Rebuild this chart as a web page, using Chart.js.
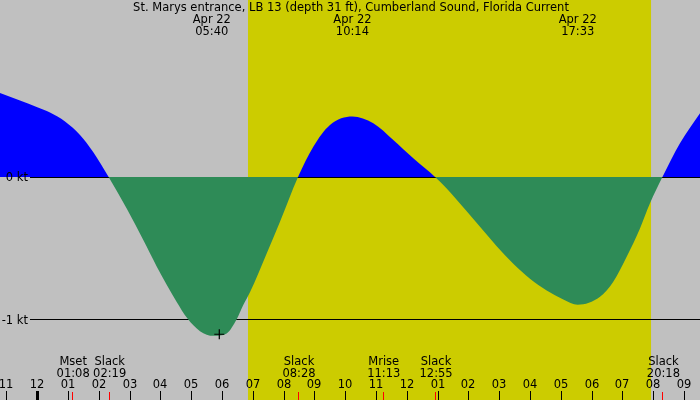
<!DOCTYPE html>
<html>
<head>
<meta charset="utf-8">
<script src="https://cdn.jsdelivr.net/npm/chart.js@4"></script>
<style>
html,body{margin:0;padding:0;background:#c0c0c0;}
#wrap{width:700px;height:400px;}
</style>
</head>
<body>
<div id="wrap"><canvas id="c" width="700" height="400"></canvas></div>
<script>
// Hours after midnight Apr 22 and current speed (kt, + = ebb/blue, - = flood/green)
const hours = [-1.211,-0.562,0.0,0.412,0.900,1.387,1.809,2.317,2.903,3.442,3.877,4.202,4.527,4.871,5.283,5.720,6.150,6.475,6.689,6.906,7.449,7.881,8.467,8.963,9.505,10.233,10.911,11.560,12.210,12.917,13.294,13.944,14.376,14.918,15.457,15.999,16.541,17.081,17.550,18.273,18.704,19.139,19.571,19.896,20.300,20.870,21.520];
const knots = [0.59,0.537,0.49,0.453,0.39,0.296,0.178,0,-0.222,-0.443,-0.628,-0.757,-0.878,-0.993,-1.083,-1.116,-1.099,-1.0,-0.90,-0.81,-0.537,-0.314,0,0.213,0.366,0.425,0.377,0.26,0.131,0,-0.08,-0.240,-0.350,-0.487,-0.610,-0.715,-0.797,-0.860,-0.897,-0.841,-0.736,-0.560,-0.361,-0.185,0,0.237,0.448];

const title = "St. Marys entrance, LB 13 (depth 31 ft), Cumberland Sound, Florida Current";
const peakHours = [5.667, 10.233, 17.55];
const peakDates = ["Apr 22","Apr 22","Apr 22"];
const peakTimes = ["05:40","10:14","17:33"];

const eventHours = [1.133, 2.317, 8.467, 11.217, 12.917, 20.3];
const eventNames = ["Mset","Slack","Slack","Mrise","Slack","Slack"];
const eventTimes = ["01:08","02:19","08:28","11:13","12:55","20:18"];

const tickHours = [-1,0,1,2,3,4,5,6,7,8,9,10,11,12,13,14,15,16,17,18,19,20,21];
const tickLabels = ["11","12","01","02","03","04","05","06","07","08","09","10","11","12","01","02","03","04","05","06","07","08","09"];

const levelValues = [0, -1];
const levelLabels = ["0 kt", "-1 kt"];

const sunrise = 6.842, sunset = 19.93;
const markerHour = [5.91];
const markerKnots = [-1.105];

const FONT = '11.5px "DejaVu Sans"';

const bgPlugin = {
  id: 'bg',
  beforeDatasetsDraw(chart) {
    const ctx = chart.ctx, x = chart.scales.x, y = chart.scales.y;
    ctx.save();
    ctx.fillStyle = '#c0c0c0';
    ctx.fillRect(0, 0, chart.width, chart.height);
    ctx.fillStyle = '#cccc00';
    const x0 = x.getPixelForValue(sunrise), x1 = x.getPixelForValue(sunset);
    ctx.fillRect(x0, 0, x1 - x0, chart.height);
    ctx.strokeStyle = '#000';
    ctx.lineWidth = 1;
    levelValues.forEach(v => {
      const py = Math.round(y.getPixelForValue(v)) + 0.5;
      ctx.beginPath(); ctx.moveTo(30, py); ctx.lineTo(chart.width, py); ctx.stroke();
    });
    ctx.restore();
  },
  afterDraw(chart) {
    const ctx = chart.ctx, x = chart.scales.x, y = chart.scales.y;
    ctx.save();
    ctx.font = FONT;
    ctx.fillStyle = '#000';
    ctx.textBaseline = 'middle';
    ctx.textAlign = 'center';
    ctx.fillText(title, 351, 8);
    peakHours.forEach((h, i) => {
      const px = x.getPixelForValue(h);
      ctx.fillText(peakDates[i], px, 20);
      ctx.fillText(peakTimes[i], px, 32);
    });
    eventHours.forEach((h, i) => {
      const px = x.getPixelForValue(h);
      ctx.fillText(eventNames[i], px + 1, 362);
      ctx.fillText(eventTimes[i], px + 1, 374);
    });
    tickHours.forEach((h, i) => {
      const px = Math.round(x.getPixelForValue(h));
      ctx.fillText(tickLabels[i], px, 385);
      ctx.fillStyle = '#000';
      if (h === 0) ctx.fillRect(px - 1, 391, 3, 9);
      else ctx.fillRect(px, 391, 1, 9);
    });
    ctx.fillStyle = '#ff0000';
    eventHours.forEach(h => {
      const px = Math.round(x.getPixelForValue(h));
      ctx.fillRect(px, 392, 1, 8);
    });
    ctx.fillStyle = '#000';
    ctx.textAlign = 'right';
    levelValues.forEach((v, i) => {
      ctx.fillText(levelLabels[i], 28, y.getPixelForValue(v) + 1.5);
    });
    ctx.restore();
  }
};

new Chart(document.getElementById('c'), {
  type: 'line',
  data: {
    datasets: [
      {
        data: hours.map((h, i) => ({x: h, y: knots[i]})),
        borderWidth: 0,
        borderColor: 'rgba(0,0,0,0)',
        pointRadius: 0,
        cubicInterpolationMode: 'monotone',
        fill: {target: {value: 0}, above: '#0000ff', below: '#2e8b57'},
        order: 2
      },
      {
        type: 'scatter',
        data: markerHour.map((h, i) => ({x: h, y: markerKnots[i]})),
        pointStyle: 'cross',
        pointRadius: 5,
        borderColor: '#000',
        borderWidth: 1.2,
        clip: false,
        order: 1
      }
    ]
  },
  options: {
    responsive: false,
    animation: false,
    devicePixelRatio: 1,
    layout: {padding: 0, autoPadding: false},
    plugins: {legend: {display: false}, tooltip: {enabled: false}},
    scales: {
      x: {type: 'linear', min: -1.211, max: 21.52, display: false},
      y: {type: 'linear', min: -1.567, max: 1.2439, display: false}
    }
  },
  plugins: [bgPlugin]
});
</script>
</body>
</html>
